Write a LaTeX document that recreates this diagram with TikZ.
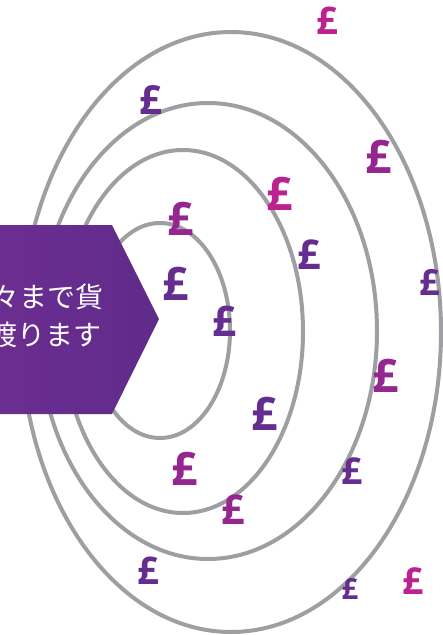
\documentclass[tikz,border=0pt]{standalone}
\usepackage{fontspec}
\newfontfamily\cjk{Noto Sans CJK JP}
\newfontfamily\lbf{Open Sans}
\definecolor{ring}{HTML}{9D9FA2}
\definecolor{pdark}{HTML}{652D90}
\definecolor{pmid}{HTML}{93278F}
\definecolor{pmag}{HTML}{BC2190}
\definecolor{hexL}{HTML}{6C2D91}
\definecolor{hexR}{HTML}{5F2B8B}
\tikzset{
  ringline/.style={draw=ring, line width=4pt},
  pound/.style={inner sep=0pt, font=\lbf\bfseries\fontsize{#1}{#1}\selectfont},
  pound/.default=48,
  jtext/.style={inner sep=0pt, text=white, font=\cjk\fontsize{28}{28}\selectfont, anchor=base east}
}
\begin{document}
\begin{tikzpicture}[x=1pt,y=-1pt]
\clip (0,0) rectangle (443,635);
\fill[white] (0,0) rectangle (443,635);
% rings
\draw[ringline] (231,332) ellipse [x radius=210, y radius=300];
\draw[ringline] (208,331) ellipse [x radius=169, y radius=228];
\draw[ringline] (183,331.5) ellipse [x radius=120, y radius=181.5];
\draw[ringline] (160,330.5) ellipse [x radius=70, y radius=107.5];
% arrow panel
\shade[left color=hexL, right color=hexR] (-10,225) -- (112,225) -- (159,319) -- (112,414) -- (-10,414) -- cycle;
\node[jtext] (t1) at (104,307) {々まで貨};
\node[jtext] (t2) at (102,345) {渡ります};
% pounds
\node[pound=38, text=pmag]  (p1)  at (327,21)  {£};
\node[pound=40, text=pdark] (p2)  at (151,100) {£};
\node[pound=46, text=pmid]  (p3)  at (379,157) {£};
\node[pound=46, text=pmag]  (p4)  at (280,194) {£};
\node[pound=46, text=pmid]  (p5)  at (181,219) {£};
\node[pound=41, text=pdark] (p6)  at (309,255) {£};
\node[pound=46, text=pdark] (p7)  at (176,284) {£};
\node[pound=36, text=pdark] (p8)  at (430,282) {£};
\node[pound=42, text=pdark] (p9)  at (224,321) {£};
\node[pound=46, text=pmid]  (p10) at (386,376) {£};
\node[pound=46, text=pdark] (p11) at (265,414) {£};
\node[pound=46, text=pmid]  (p12) at (185,469) {£};
\node[pound=37, text=pdark] (p13) at (352,471) {£};
\node[pound=41, text=pmid]  (p14) at (233,510) {£};
\node[pound=38, text=pdark] (p15) at (148,571) {£};
\node[pound=29, text=pdark] (p16) at (350,589) {£};
\node[pound=37, text=pmag]  (p17) at (413,581) {£};
\end{tikzpicture}
\end{document}
